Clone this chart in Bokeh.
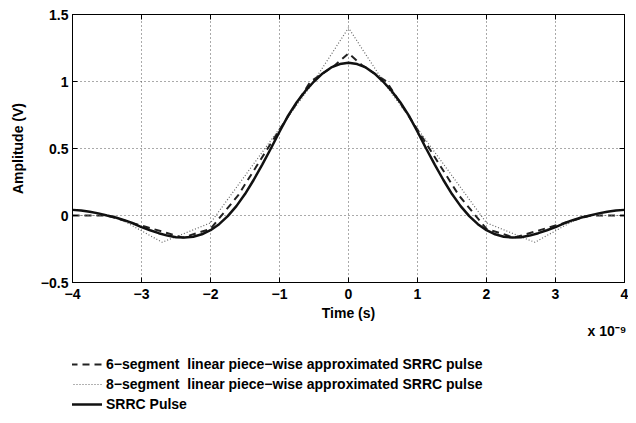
from bokeh.plotting import figure
from bokeh.layouts import column
from bokeh.models import (Range1d, FixedTicker, CustomJSTickFormatter, Legend, LegendItem,
                          Title, LinearAxis)
from bokeh.embed import file_html
from bokeh.resources import INLINE

# ---- data (time in units of 1e-9 s) ----
srrc_t = [-4.0, -3.875, -3.75, -3.625, -3.5, -3.375, -3.25, -3.125, -3.0, -2.875, -2.75,
          -2.625, -2.5, -2.375, -2.25, -2.125, -2.0, -1.875, -1.75, -1.625, -1.5, -1.375,
          -1.25, -1.125, -1.0, -0.875, -0.75, -0.625, -0.5, -0.375, -0.25, -0.125, 0.0,
          0.125, 0.25, 0.375, 0.5, 0.625, 0.75, 0.875, 1.0, 1.125, 1.25, 1.375, 1.5,
          1.625, 1.75, 1.875, 2.0, 2.125, 2.25, 2.375, 2.5, 2.625, 2.75, 2.875, 3.0,
          3.125, 3.25, 3.375, 3.5, 3.625, 3.75, 3.875, 4.0]
srrc_v = [0.042, 0.037, 0.028, 0.016, 0.0, -0.015, -0.035, -0.058, -0.087, -0.11, -0.132,
          -0.15, -0.162, -0.165, -0.158, -0.14, -0.11, -0.065, -0.005, 0.07, 0.16, 0.265,
          0.38, 0.5, 0.625, 0.745, 0.845, 0.93, 1.0, 1.06, 1.105, 1.13, 1.14,
          1.13, 1.105, 1.06, 1.0, 0.93, 0.845, 0.745, 0.625, 0.5, 0.38, 0.265, 0.16,
          0.07, -0.005, -0.065, -0.11, -0.14, -0.158, -0.165, -0.162, -0.15, -0.132, -0.11,
          -0.087, -0.058, -0.035, -0.015, 0.0, 0.016, 0.028, 0.037, 0.042]

seg6_t = [-4.0, -3.5, -2.4, -2.0, -1.6, -1.0, -0.55, -0.2, 0.0, 0.2, 0.55, 1.0, 1.6,
          2.0, 2.4, 3.5, 4.0]
seg6_v = [0.0, 0.0, -0.165, -0.1, 0.15, 0.64, 1.0, 1.12, 1.21, 1.12, 1.0, 0.64, 0.15,
          -0.1, -0.165, 0.0, 0.0]

seg8_t = [-4.0, -3.4, -2.7, -2.0, -0.55, 0.0, 0.55, 2.0, 2.7, 3.4, 4.0]
seg8_v = [0.0, 0.0, -0.2, -0.055, 0.965, 1.4, 0.965, -0.055, -0.2, 0.0, 0.0]

x_ticks = [-4, -3, -2, -1, 0, 1, 2, 3, 4]
y_ticks = [-0.5, 0, 0.5, 1, 1.5]

labels = ["6\u2212segment  linear piece\u2212wise approximated SRRC pulse",
          "8\u2212segment  linear piece\u2212wise approximated SRRC pulse",
          "SRRC Pulse"]
x_multiplier = "x 10\u207b\u2079"

FONT = "Liberation Sans"
FS = "14px"

S6 = dict(line_color="#222222", line_width=2, line_dash="7 5")
S8 = dict(line_color="#666666", line_width=1.2, line_dash="1 2")
SS = dict(line_color="#111111", line_width=2.5)

p = figure(width=628, height=346, x_range=Range1d(-4, 4), y_range=Range1d(-0.5, 1.5),
           output_backend="svg", toolbar_location=None,
           min_border_left=72, min_border_right=4, min_border_top=14, min_border_bottom=64)

fmt = CustomJSTickFormatter(code="""
var s = Math.abs(tick).toString();
return tick < 0 ? '\\u2212' + s : s;
""")

for ax in (p.xaxis[0], p.yaxis[0]):
    ax.major_tick_in = 5
    ax.major_tick_out = 0
    ax.minor_tick_line_color = None
    ax.axis_line_color = "black"
    ax.major_tick_line_color = "black"
    ax.major_label_text_font = FONT
    ax.major_label_text_font_style = "bold"
    ax.major_label_text_font_size = FS
    ax.major_label_text_color = "black"
    ax.axis_label_text_font = FONT
    ax.axis_label_text_font_style = "bold"
    ax.axis_label_text_font_size = FS
    ax.axis_label_text_color = "black"
    ax.formatter = fmt
p.xaxis[0].ticker = FixedTicker(ticks=x_ticks)
p.yaxis[0].ticker = FixedTicker(ticks=y_ticks)
p.xaxis[0].axis_label = "Time (s)"
p.yaxis[0].axis_label = "Amplitude (V)"
p.xaxis[0].major_label_standoff = 6
p.xaxis[0].axis_label_standoff = 3
p.yaxis[0].major_label_standoff = 4
p.yaxis[0].axis_label_standoff = 12

# top/right box ticks
for loc, tk in (("right", y_ticks), ("above", x_ticks)):
    a = LinearAxis(ticker=FixedTicker(ticks=tk), major_tick_in=5, major_tick_out=0,
                   minor_tick_line_color=None, major_label_text_font_size="0px",
                   major_label_standoff=0, axis_line_color="black")
    p.add_layout(a, loc)

p.outline_line_color = "black"
p.outline_line_width = 1
p.grid.grid_line_color = "#555555"
p.grid.grid_line_dash = "1 3"
p.grid.grid_line_width = 1
p.xgrid.ticker = FixedTicker(ticks=x_ticks)
p.ygrid.ticker = FixedTicker(ticks=y_ticks)

p.line(seg6_t, seg6_v, **S6)
p.line(seg8_t, seg8_v, **S8)
p.line(srrc_t, srrc_v, **SS)

p.add_layout(Title(text=x_multiplier, align="right", offset=-2, standoff=-5,
                   text_font=FONT, text_font_style="bold", text_font_size=FS,
                   text_color="black"), "below")

# ---- legend strip below the axes (same series, kept outside its own view) ----
q = figure(width=628, height=77, x_range=Range1d(10, 11), y_range=Range1d(10, 11),
           output_backend="svg", toolbar_location=None, min_border=0,
           outline_line_color=None)
q.axis.visible = False
q.grid.visible = False
l6 = q.line(seg6_t, seg6_v, **S6)
l8 = q.line(seg8_t, seg8_v, **S8)
ls = q.line(srrc_t, srrc_v, **SS)
legend = Legend(items=[LegendItem(label=labels[0], renderers=[l6]),
                       LegendItem(label=labels[1], renderers=[l8]),
                       LegendItem(label=labels[2], renderers=[ls])],
                location=(-2, 9), border_line_color=None, background_fill_alpha=0,
                padding=0, margin=0, spacing=0, glyph_width=32, glyph_height=20,
                label_height=20, label_standoff=4, label_text_color="black",
                label_text_font=FONT, label_text_font_style="bold", label_text_font_size=FS)
q.add_layout(legend, "center")

open("out.html", "w").write(file_html(column(p, q, spacing=0), INLINE))
